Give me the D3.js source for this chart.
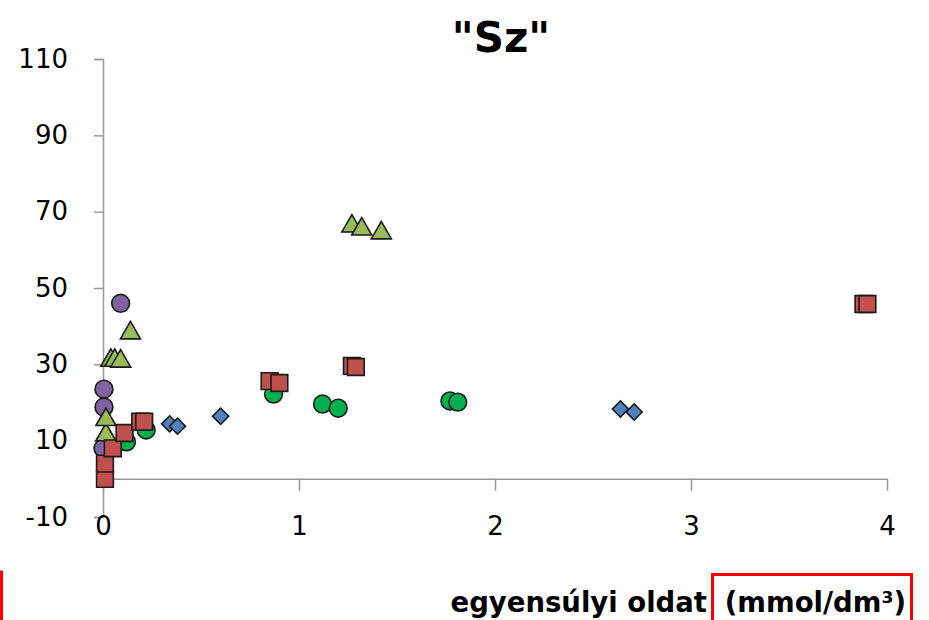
<html>
  <head>
    <meta charset="utf-8">
    <script src="https://cdn.jsdelivr.net/npm/d3@7" charset="utf-8"></script>
    <style>
      body { margin: 0; background: #fff; }
      text { font-family: "DejaVu Sans", Verdana, sans-serif; }
    </style>
  </head>
  <body>
    <div id="main"></div>
  <script>
    // series
    var diamonds = [[0.34, 14.4], [0.38, 13.8], [0.60, 16.4], [2.64, 18.3], [2.71, 17.5]];
    var greenDots = [[0.12, 9.7], [0.22, 12.8], [0.87, 22.2], [1.12, 19.6], [1.20, 18.5], [1.77, 20.4], [1.81, 20.1]];
    var purpleDots = [[0.0, 8], [0.005, 18.8], [0.005, 23.5], [0.09, 46.0]];
    var triangles = [[0.015, 11.5], [0.015, 15.5], [0.04, 31.0], [0.06, 31.0], [0.09, 30.8], [0.14, 38.2], [1.27, 66.2], [1.32, 65.4], [1.42, 64.4]];
    var squares = [[0.01, 0], [0.01, 4], [0.05, 8], [0.11, 12], [0.19, 15], [0.21, 15], [0.85, 25.6], [0.90, 25.1], [1.27, 29.6], [1.29, 29.3], [3.88, 45.8], [3.90, 45.8]];

    var xTicks = [0, 1, 2, 3, 4];
    var yTicks = [-10, 10, 30, 50, 70, 90, 110];

    var svgWidth = 929;
    var svgHeight = 620;

    var svg = d3.select('#main')
      .append('svg')
      .attr('width', svgWidth)
      .attr('height', svgHeight);

    var x = d3.scaleLinear().domain([0, 4]).range([103, 887]);
    var y = d3.scaleLinear().domain([-10, 110]).range([517, 59]);

    // plain hyphen minus, like the original
    var fmt = function(d) { return String(d); };

    // y axis
    var yAxis = svg.append('g')
      .attr('transform', 'translate(' + x(0) + ',0)')
      .call(d3.axisLeft(y).tickValues(yTicks).tickFormat(fmt).tickSize(9).tickPadding(26));
    yAxis.select('.domain').attr('stroke', '#999').attr('stroke-width', 1.5);
    yAxis.selectAll('.tick line').attr('stroke', '#999').attr('stroke-width', 1.5);
    yAxis.selectAll('.tick text')
      .attr('font-size', 26)
      .attr('fill', '#000')
      .style('font-family', '"DejaVu Sans", Verdana, sans-serif');

    // x axis sits on y = 0
    var xAxis = svg.append('g')
      .attr('transform', 'translate(0,' + y(0) + ')')
      .call(d3.axisBottom(x).tickValues(xTicks).tickFormat(fmt).tickSize(12).tickSizeOuter(0).tickPadding(0));
    xAxis.select('.domain').attr('stroke', '#999').attr('stroke-width', 1.5);
    xAxis.selectAll('.tick line').attr('stroke', '#999').attr('stroke-width', 1.5);
    xAxis.selectAll('.tick text')
      .attr('font-size', 26)
      .attr('fill', '#000')
      .attr('dy', 0)
      .attr('y', y(-10) - y(0) + 18)
      .style('font-family', '"DejaVu Sans", Verdana, sans-serif');

    var plot = svg.append('g');
    var stroke = '#1a1a1a';

    function addSeries(data, shape, size, fill, rot) {
      plot.selectAll(null)
        .data(data)
        .enter()
        .append('path')
        .attr('d', d3.symbol().type(shape).size(size))
        .attr('transform', function(d) {
          return 'translate(' + x(d[0]) + ',' + y(d[1]) + ') rotate(' + (rot || 0) + ')';
        })
        .attr('fill', fill)
        .attr('stroke', stroke)
        .attr('stroke-width', 1.6);
    }

    addSeries(diamonds, d3.symbolSquare, 130, '#4F81BD', 45);
    addSeries(greenDots, d3.symbolCircle, 250, '#00B050');
    addSeries(purpleDots, d3.symbolCircle, 250, '#8064A2');
    addSeries(triangles, d3.symbolTriangle, 175, '#9BBB59');
    addSeries(squares, d3.symbolSquare, 280, '#C0504D');

    // title
    svg.append('text')
      .attr('x', 501)
      .attr('y', 52)
      .attr('text-anchor', 'middle')
      .attr('font-size', 42)
      .attr('font-weight', 'bold')
      .text('"Sz"');

    // x axis title, split so the unit sits inside its box
    svg.append('text')
      .attr('x', 707)
      .attr('y', 612)
      .attr('text-anchor', 'end')
      .attr('font-size', 27.5)
      .attr('font-weight', 'bold')
      .text('egyensúlyi oldat');
    svg.append('text')
      .attr('x', 906)
      .attr('y', 612)
      .attr('text-anchor', 'end')
      .attr('font-size', 27.5)
      .attr('font-weight', 'bold')
      .text('(mmol/dm³)');

    // red annotation boxes
    svg.append('rect')
      .attr('x', -60).attr('y', 572)
      .attr('width', 61.5).attr('height', 80)
      .attr('fill', 'none').attr('stroke', '#ff0000').attr('stroke-width', 3);
    svg.append('rect')
      .attr('x', 712.5).attr('y', 574.5)
      .attr('width', 199).attr('height', 80)
      .attr('fill', 'none').attr('stroke', '#ff0000').attr('stroke-width', 3);
  </script>
  </body>
</html>
